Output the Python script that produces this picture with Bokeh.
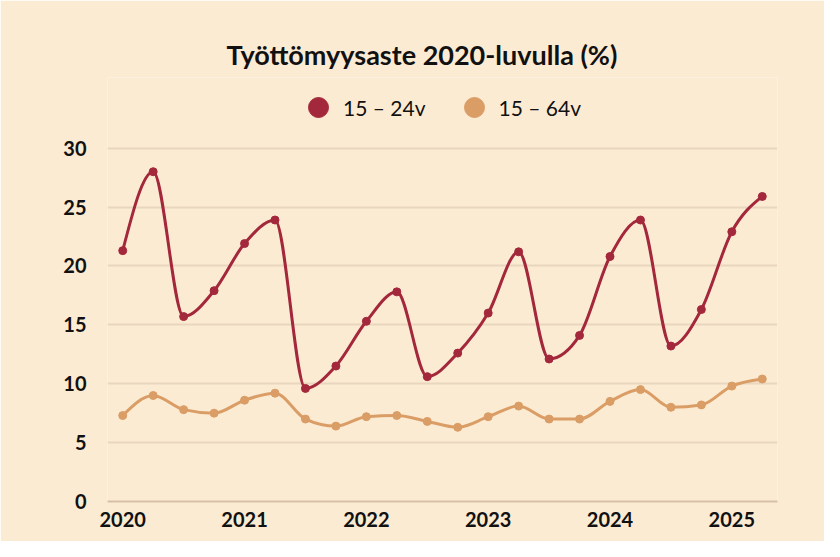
import numpy as np
from bokeh.plotting import figure
from bokeh.models import Range1d, FixedTicker, Legend, LegendItem
from bokeh.embed import file_html
from bokeh.resources import INLINE

# ---- data ----
quarters = ["2020Q1", "2020Q2", "2020Q3", "2020Q4",
            "2021Q1", "2021Q2", "2021Q3", "2021Q4",
            "2022Q1", "2022Q2", "2022Q3", "2022Q4",
            "2023Q1", "2023Q2", "2023Q3", "2023Q4",
            "2024Q1", "2024Q2", "2024Q3", "2024Q4",
            "2025Q1", "2025Q2"]
youth_15_24 = [21.3, 28.0, 15.7, 17.9, 21.9, 23.9, 9.6, 11.5, 15.3, 17.8, 10.6,
               12.6, 16.0, 21.2, 12.1, 14.1, 20.8, 23.9, 13.2, 16.3, 22.9, 25.9]
all_15_64 = [7.3, 9.0, 7.8, 7.5, 8.6, 9.2, 7.0, 6.4, 7.2, 7.3, 6.8,
             6.3, 7.2, 8.1, 7.0, 7.0, 8.5, 9.5, 8.0, 8.2, 9.8, 10.4]
year_ticks = [2020, 2021, 2022, 2023, 2024, 2025]
value_ticks = [0, 5, 10, 15, 20, 25, 30]
series_names = ["15 \u2013 24v", "15 \u2013 64v"]

RED = "#A3283B"
ORANGE = "#DA9D66"
BG = "#FCEBD3"
FONT = "Lato"


def qnum(q):
    return int(q[:4]) + (int(q[-1]) - 1) / 4.0


def monotone_segments(x, y):
    """Cubic Bezier control points of a monotone-x curve through the data."""
    x = np.asarray(x, float)
    y = np.asarray(y, float)
    n = len(x)
    h = np.diff(x)
    s = np.diff(y) / h
    t = np.zeros(n)
    for i in range(1, n - 1):
        h0, h1 = h[i - 1], h[i]
        s0, s1 = s[i - 1], s[i]
        p = (s0 * h1 + s1 * h0) / (h0 + h1)
        sg = (1 if s0 >= 0 else -1) + (1 if s1 >= 0 else -1)
        t[i] = sg * min(abs(s0), abs(s1), 0.5 * abs(p))
    t[0] = (3 * s[0] - t[1]) / 2
    t[-1] = (3 * s[-1] - t[-2]) / 2
    dx = h / 3.0
    return dict(x0=x[:-1], y0=y[:-1], x1=x[1:], y1=y[1:],
                cx0=x[:-1] + dx, cy0=y[:-1] + dx * t[:-1],
                cx1=x[1:] - dx, cy1=y[1:] - dx * t[1:])


xs = [qnum(q) for q in quarters]

# y range extends above 30 to leave room for the legend inside the frame
p = figure(width=824, height=541, output_backend="svg", toolbar_location=None,
           x_range=Range1d(2019.875, 2025.375), y_range=Range1d(0, 36),
           min_border_left=107, min_border_right=47, min_border_top=77,
           min_border_bottom=40)

p.background_fill_color = BG
p.border_fill_color = BG
p.outline_line_color = None

# title
p.title.text = "Ty\u00f6tt\u00f6myysaste 2020-luvulla (%)"
p.title.align = "left"
p.title.offset = 119
p.title.standoff = 13
p.title.text_font = FONT
p.title.text_font_size = "27px"
p.title.text_font_style = "bold"
p.title.text_color = "#111111"

# grid
p.xgrid.visible = False
p.ygrid.ticker = FixedTicker(ticks=value_ticks)
p.ygrid.grid_line_color = "#E8D6BE"
p.ygrid.grid_line_width = 2

# axes
p.xaxis.ticker = FixedTicker(ticks=year_ticks)
p.yaxis.ticker = FixedTicker(ticks=value_ticks)
for ax in (p.xaxis[0], p.yaxis[0]):
    ax.major_tick_line_color = None
    ax.minor_tick_line_color = None
    ax.major_label_text_font = FONT
    ax.major_label_text_font_size = "20px"
    ax.major_label_text_font_style = "bold"
    ax.major_label_text_color = "#111111"
p.yaxis.axis_line_color = None
p.xaxis.axis_line_color = "#D6C1A8"
p.xaxis.axis_line_width = 2
p.yaxis.major_label_standoff = 15
p.xaxis.major_label_standoff = 4

# lines
seg_red = monotone_segments(xs, youth_15_24)
seg_or = monotone_segments(xs, all_15_64)
p.bezier(line_color=ORANGE, line_width=3, line_cap="round", **seg_or)
p.bezier(line_color=RED, line_width=3, line_cap="round", **seg_red)
r_or = p.scatter(xs, all_15_64, size=8, color=ORANGE)
r_red = p.scatter(xs, youth_15_24, size=8, color=RED)

legend = Legend(items=[LegendItem(label=series_names[0], renderers=[r_red]),
                       LegendItem(label=series_names[1], renderers=[r_or])],
                orientation="horizontal", location=(186, 369))
legend.glyph_width = 50
legend.glyph_height = 50
legend.label_standoff = 0
legend.spacing = 23
legend.padding = 0
legend.margin = 0
legend.label_text_font = FONT
legend.label_text_font_size = "21px"
legend.label_text_color = "#111111"
legend.background_fill_alpha = 0
legend.border_line_alpha = 0
p.add_layout(legend, "center")

open("out.html", "w").write(file_html(p, INLINE))
